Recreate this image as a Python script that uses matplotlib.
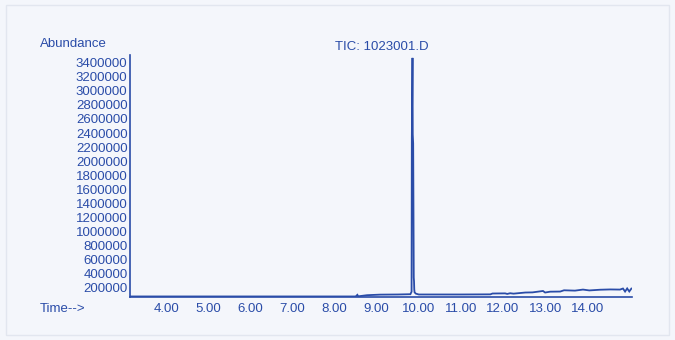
"""Total ion chromatogram (TIC) redrawn from a ChemStation style printout."""

import matplotlib
matplotlib.use("Agg")
import matplotlib.pyplot as plt
from matplotlib.patches import Rectangle

# Retention time (min) and abundance.
time_min = [
    3.15, 8.50, 8.54, 8.56, 8.77, 9.08, 9.50, 9.80, 9.828, 9.834, 9.850,
    9.856, 9.866, 9.880, 9.886, 9.892, 9.900, 9.930, 10.00,
    11.00, 11.70, 11.75, 12.05, 12.10, 12.17, 12.25, 12.53, 12.70,
    12.95, 13.00, 13.12, 13.36, 13.45, 13.71, 13.90, 14.05, 14.31,
    14.55, 14.78, 14.85, 14.90, 14.95, 15.00, 15.05,
]
abundance = [
    72000, 72000, 95000, 74000, 90000, 98000, 100000, 104000, 140000,
    2330000, 3470000, 2380000, 2250000, 341000, 290000, 170000,
    130000, 112000, 100000, 100000, 102000, 114000, 116000, 108000,
    118000, 112000, 128000, 130000, 150000, 128000, 140000, 142000,
    160000, 155000, 170000, 158000, 168000, 172000, 170000, 185000,
    142000, 186000, 143000, 184000,
]

y_ticks = list(range(200000, 3400001, 200000))
x_ticks = [4, 5, 6, 7, 8, 9, 10, 11, 12, 13, 14]

title_text = "TIC: 1023001.D"
y_label = "Abundance"
x_label = "Time-->"

BG = "#f4f6fb"
INK = "#2a4ca8"

plt.rcParams["font.family"] = ["Liberation Sans", "DejaVu Sans"]

fig = plt.figure(figsize=(6.75, 3.4), dpi=100, facecolor=BG)
ax = fig.add_axes([0.193, 0.126, 0.743, 0.712], facecolor=BG)

ax.plot(time_min, abundance, color=INK, linewidth=1.3, solid_joinstyle="miter")

ax.set_xlim(3.145, 15.06)
ax.set_ylim(62000, 3510000)

for side in ("top", "right"):
    ax.spines[side].set_visible(False)
for side in ("left", "bottom"):
    ax.spines[side].set_color(INK)
    ax.spines[side].set_linewidth(1.2)

ax.set_yticks(y_ticks)
ax.set_yticklabels([str(v) for v in y_ticks])
ax.set_xticks(x_ticks)
ax.set_xticklabels([f"{v:.2f}" for v in x_ticks])
ax.tick_params(axis="y", length=0, pad=2, labelsize=9.5, labelcolor=INK)
ax.tick_params(axis="x", length=0, pad=4, labelsize=9.5, labelcolor=INK)

fig.text(40 / 675, 1 - 44 / 340, y_label, color=INK, fontsize=9.5,
         ha="left", va="center")
fig.text(40 / 675, 1 - 309 / 340, x_label, color=INK, fontsize=9.5,
         ha="left", va="center")
fig.text(382 / 675, 1 - 47 / 340, title_text, color=INK, fontsize=9.5,
         ha="center", va="center")

# Faint page frame.
fig.patches.append(Rectangle((6 / 675, 5 / 340), 663 / 675, 330 / 340,
                             transform=fig.transFigure, fill=False,
                             edgecolor="#e2e6ef", linewidth=1))

fig.savefig("out.png", dpi=100, facecolor=BG)
